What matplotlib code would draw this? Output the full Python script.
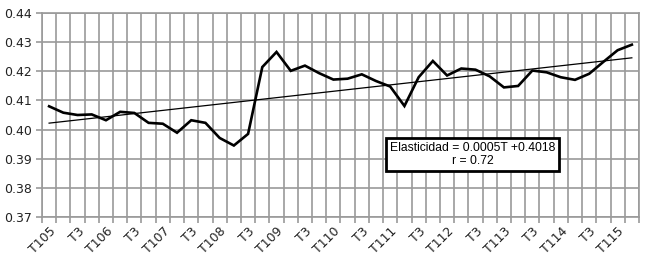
import matplotlib.pyplot as plt
import numpy as np

# quarterly values, T1 2005 .. T2 2015
elasticidad = [0.4080, 0.4058, 0.4050, 0.4052, 0.4032, 0.4061, 0.4057, 0.4023,
               0.4020, 0.3989, 0.4032, 0.4023, 0.3971, 0.3945, 0.3985, 0.4215,
               0.4267, 0.4202, 0.4220, 0.4194, 0.4172, 0.4175, 0.4190, 0.4167,
               0.4148, 0.4081, 0.4180, 0.4236, 0.4186, 0.4210, 0.4206, 0.4183,
               0.4145, 0.4150, 0.4203, 0.4197, 0.4180, 0.4171, 0.4192, 0.4233,
               0.4273, 0.4292]
xlabels = ["T105", "T3", "T106", "T3", "T107", "T3", "T108", "T3", "T109", "T3",
           "T110", "T3", "T111", "T3", "T112", "T3", "T113", "T3", "T114", "T3",
           "T115"]
yticks = [0.37, 0.38, 0.39, 0.40, 0.41, 0.42, 0.43, 0.44]
eq_text = "Elasticidad = 0.0005T +0.4018\nr = 0.72"

grid_c = "#9a9a9a"
x = np.arange(len(elasticidad))

fig = plt.figure(figsize=(6.5, 2.59), dpi=100)
ax = fig.add_axes([0.0646, 0.1633, 0.9184, 0.7853])

ax.plot(x, elasticidad, color="black", lw=1.9, solid_joinstyle="miter", zorder=3)
slope, icpt = np.polyfit(x, elasticidad, 1)
ax.plot(x, slope * x + icpt, color="black", lw=0.9, zorder=3)

ax.set_xlim(-0.5, len(x) - 0.5)
ax.set_ylim(0.37, 0.44)
ax.set_yticks(yticks)
ax.set_yticklabels([f"{v:.2f}" for v in yticks])

ax.set_xticks(x[::2])
ax.set_xticklabels(xlabels, rotation=45, ha="right", rotation_mode="anchor")
ax.set_xticks(np.arange(-0.5, len(x)), minor=True)
ax.tick_params(axis="x", which="major", length=0, pad=6)
ax.tick_params(axis="x", which="minor", length=4, color=grid_c, width=1.2)
ax.tick_params(axis="y", length=4, color=grid_c, width=1.2, pad=3)
ax.tick_params(labelsize=9, labelcolor="#222222")

ax.grid(True, which="minor", axis="x", color=grid_c, lw=1.2)
ax.grid(True, which="major", axis="y", color=grid_c, lw=1.2)
for s in ax.spines.values():
    s.set_color(grid_c)
    s.set_linewidth(1.2)

ax.text(29.8, 0.3914, eq_text, ha="center", va="center", fontsize=8.7,
        family="Liberation Sans", linespacing=1.2,
        bbox=dict(boxstyle="square,pad=0.3", fc="white", ec="black", lw=2),
        zorder=5)

fig.savefig("out.png", dpi=100)
